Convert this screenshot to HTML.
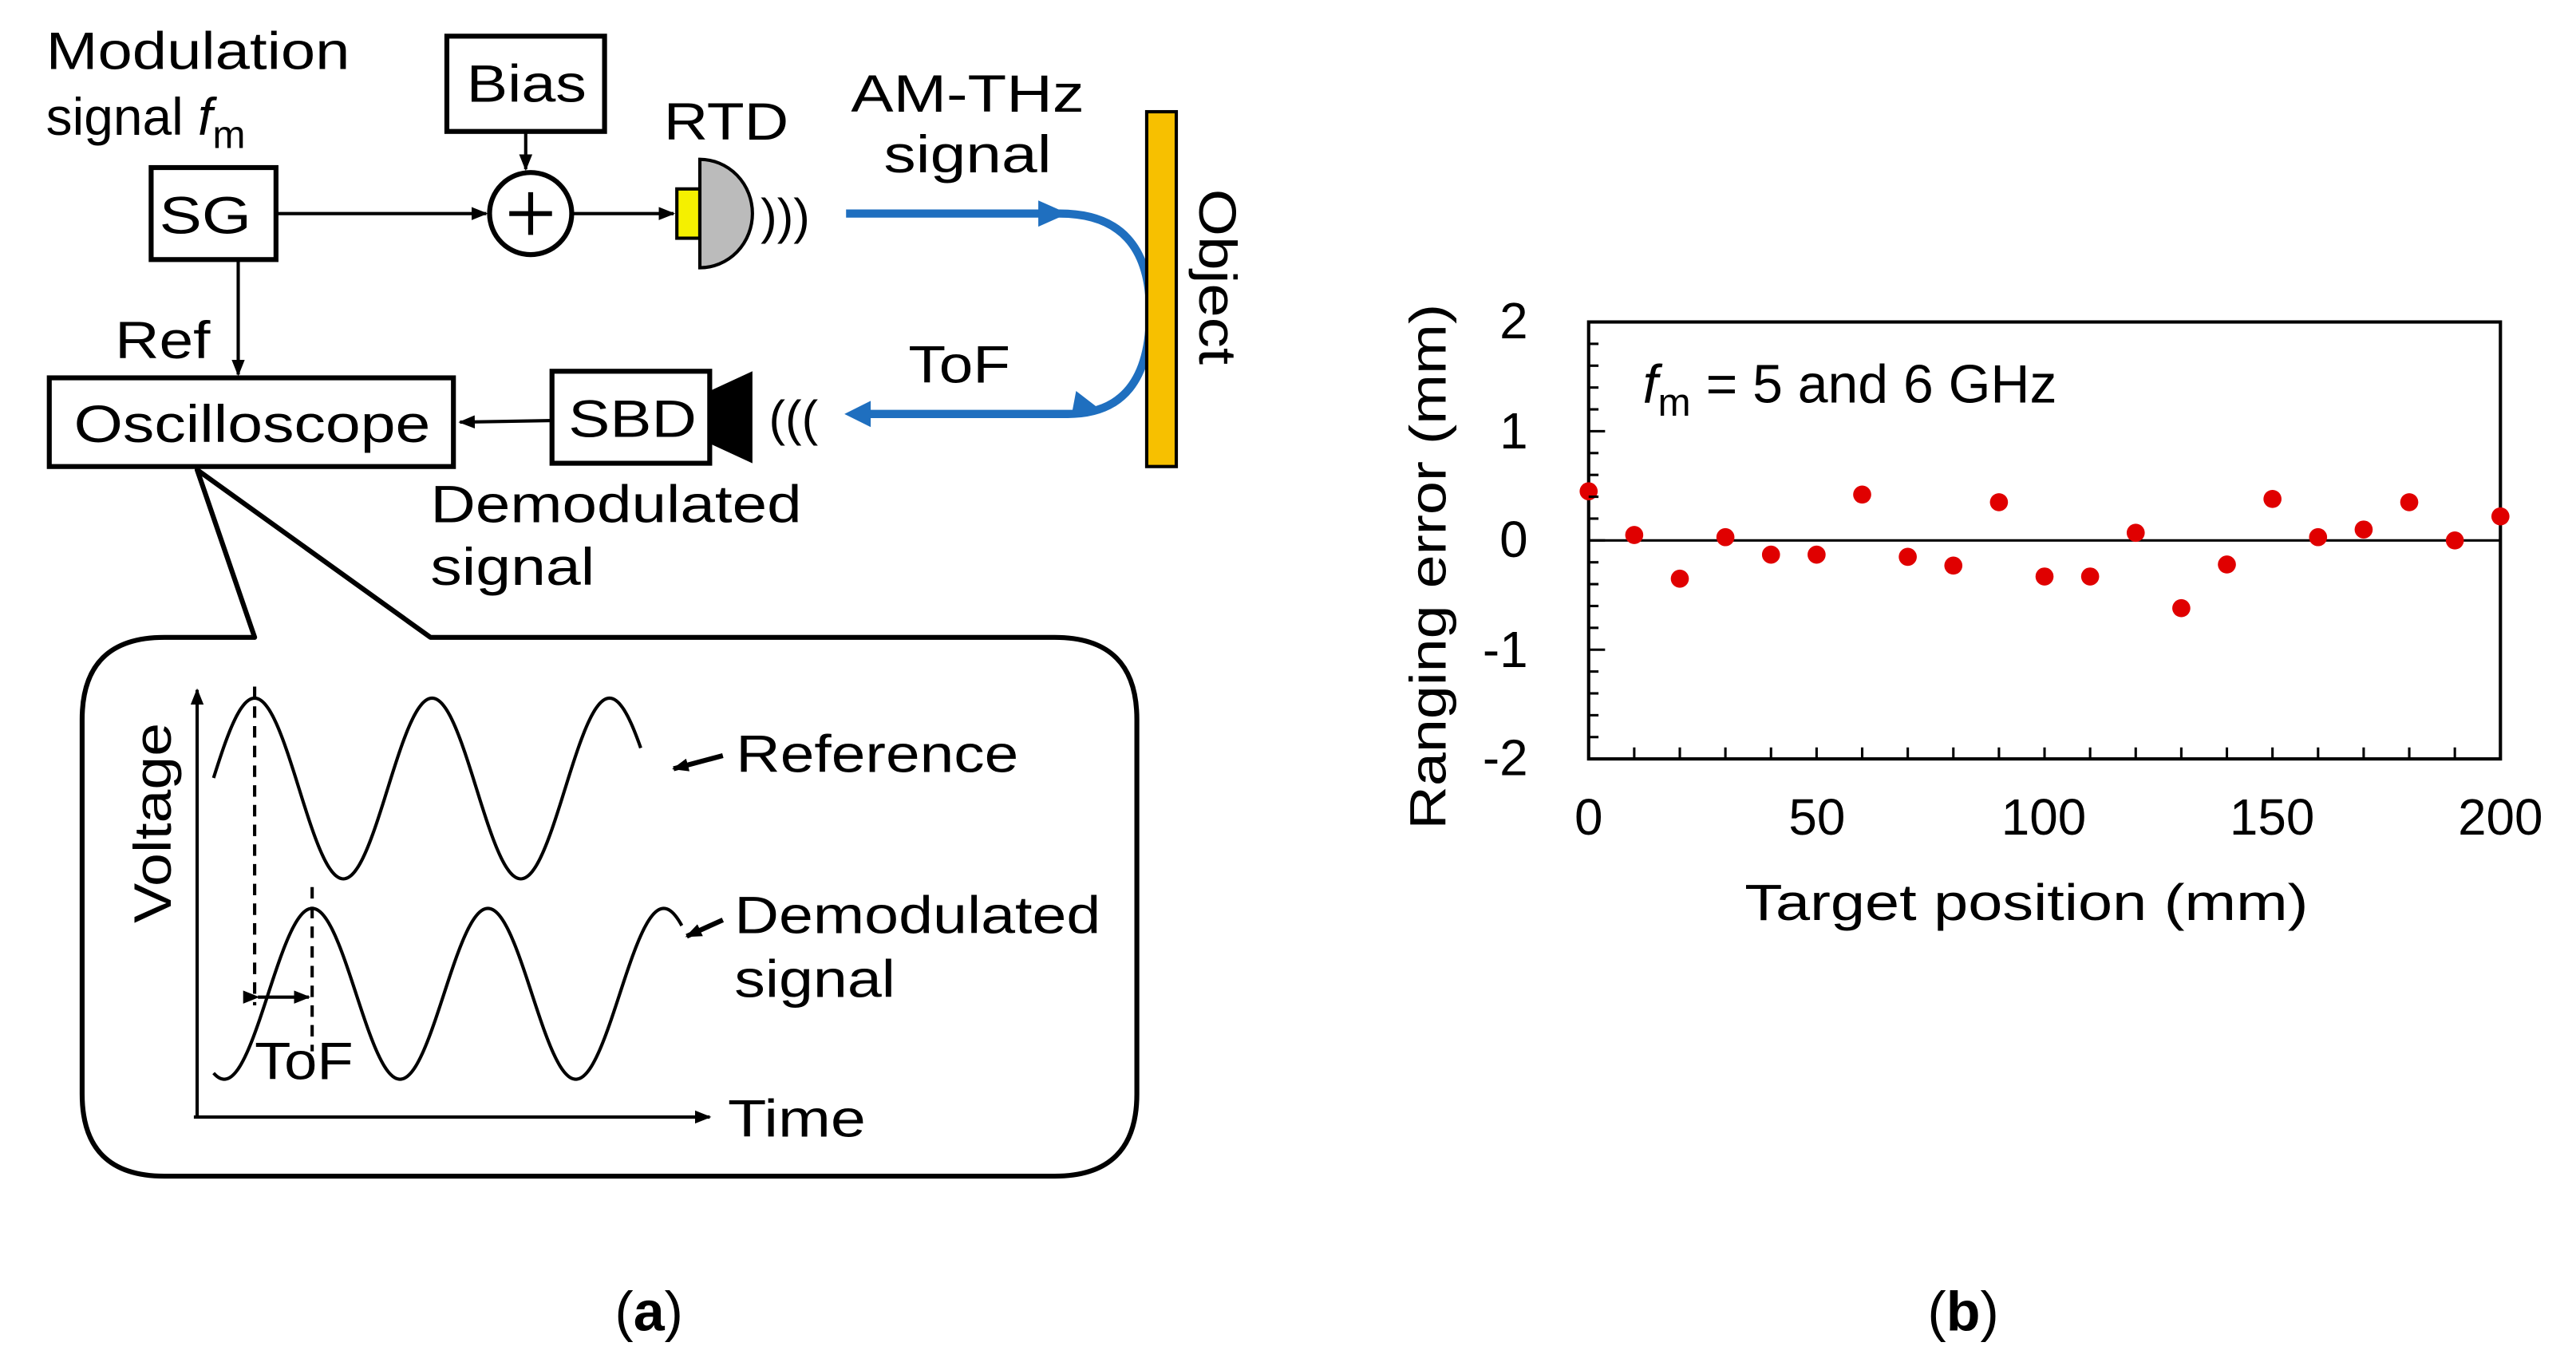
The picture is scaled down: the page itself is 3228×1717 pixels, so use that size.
<!DOCTYPE html>
<html><head><meta charset="utf-8"><style>
html,body{margin:0;padding:0;background:#fff;}
svg{display:block;}
text{font-family:"Liberation Sans",sans-serif;fill:#000;}
</style></head><body>
<svg width="3228" height="1717" viewBox="0 0 1568 834" xmlns="http://www.w3.org/2000/svg">
<defs>
<marker id="ah" markerWidth="10" markerHeight="8" refX="9" refY="4" orient="auto" markerUnits="userSpaceOnUse"><path d="M0,0 L10,4 L0,8 z" fill="#000"/></marker>
</defs>
<g font-size="32">
<text x="28" y="42" textLength="185" lengthAdjust="spacingAndGlyphs">Modulation</text>
<text x="28" y="82">signal <tspan font-style="italic">f</tspan><tspan font-size="24" dy="8">m</tspan></text>
<rect x="272" y="22" width="96" height="58" fill="none" stroke="#000" stroke-width="3"/>
<text x="284" y="62" textLength="73" lengthAdjust="spacingAndGlyphs">Bias</text>
<line x1="320" y1="80" x2="320" y2="103" stroke="#000" stroke-width="2" marker-end="url(#ah)"/>
<rect x="92" y="102" width="76" height="56" fill="none" stroke="#000" stroke-width="3"/>
<text x="97" y="142" textLength="56" lengthAdjust="spacingAndGlyphs">SG</text>
<line x1="168" y1="130" x2="296" y2="130" stroke="#000" stroke-width="2" marker-end="url(#ah)"/>
<circle cx="323" cy="130" r="25" fill="none" stroke="#000" stroke-width="3"/>
<line x1="310" y1="130" x2="336" y2="130" stroke="#000" stroke-width="3"/>
<line x1="323" y1="117" x2="323" y2="143" stroke="#000" stroke-width="3"/>
<line x1="348" y1="130" x2="410" y2="130" stroke="#000" stroke-width="2" marker-end="url(#ah)"/>
<rect x="412" y="115" width="14" height="30" fill="#f5f000" stroke="#000" stroke-width="2"/>
<path d="M426,97 A32,33 0 0 1 426,163 Z" fill="#bbb" stroke="#000" stroke-width="2"/>
<text x="404" y="85" textLength="76" lengthAdjust="spacingAndGlyphs">RTD</text>
<text x="463" y="142" font-size="30">)))</text>
<text x="518" y="68" textLength="142" lengthAdjust="spacingAndGlyphs">AM-THz</text>
<text x="538" y="105" textLength="102" lengthAdjust="spacingAndGlyphs">signal</text>
<path d="M515,130 L645,130 Q700,130 700,190 Q700,252 650,252 L520,252" fill="none" stroke="#1f6fbf" stroke-width="5"/>
<path d="M632,122 L650,130 L632,138 z" fill="#1f6fbf"/>
<path d="M530,244 L514,252 L530,260 z" fill="#1f6fbf"/>
<path d="M655,238 L668,248 L652,254 z" fill="#1f6fbf"/>
<rect x="698" y="68" width="18" height="216" fill="#f7c000" stroke="#000" stroke-width="2"/>
<text transform="translate(730,115) rotate(90)" textLength="107" lengthAdjust="spacingAndGlyphs">Object</text>
<text x="553" y="233" textLength="62" lengthAdjust="spacingAndGlyphs">ToF</text>
<text x="468" y="265" font-size="30">(((</text>
<path d="M432,238 L458,226 L458,282 L432,270 Z" fill="#000"/>
<rect x="336" y="226" width="96" height="56" fill="none" stroke="#000" stroke-width="3"/>
<text x="346" y="266" textLength="78" lengthAdjust="spacingAndGlyphs">SBD</text>
<line x1="336" y1="256" x2="280" y2="257" stroke="#000" stroke-width="2" marker-end="url(#ah)"/>
<rect x="30" y="230" width="246" height="54" fill="none" stroke="#000" stroke-width="3"/>
<text x="45" y="269" textLength="217" lengthAdjust="spacingAndGlyphs">Oscilloscope</text>
<line x1="145" y1="158" x2="145" y2="228" stroke="#000" stroke-width="2" marker-end="url(#ah)"/>
<text x="70" y="218" textLength="58" lengthAdjust="spacingAndGlyphs">Ref</text>
<text x="262" y="318" textLength="226" lengthAdjust="spacingAndGlyphs">Demodulated</text>
<text x="262" y="356" textLength="100" lengthAdjust="spacingAndGlyphs">signal</text>
<path d="M155,388 L100,388 Q50,388 50,438 L50,666 Q50,716 100,716 L642,716 Q692,716 692,666 L692,438 Q692,388 642,388 L262,388 L120,286 Z" fill="#fff" stroke="#000" stroke-width="3" stroke-linejoin="round"/>
<line x1="120" y1="680" x2="120" y2="420" stroke="#000" stroke-width="2" marker-end="url(#ah)"/>
<line x1="118" y1="680" x2="432" y2="680" stroke="#000" stroke-width="2" marker-end="url(#ah)"/>
<text transform="translate(104,562) rotate(-90)" textLength="122" lengthAdjust="spacingAndGlyphs">Voltage</text>
<path id="w1" fill="none" stroke="#000" stroke-width="2"/>
<path id="w2" fill="none" stroke="#000" stroke-width="2"/>
<line x1="155" y1="418" x2="155" y2="612" stroke="#000" stroke-width="2" stroke-dasharray="7,5"/>
<line x1="190" y1="540" x2="190" y2="640" stroke="#000" stroke-width="2" stroke-dasharray="7,5"/>
<line x1="157" y1="607" x2="188" y2="607" stroke="#000" stroke-width="2" marker-start="url(#ah)" marker-end="url(#ah)"/>
<text x="155" y="657" textLength="60" lengthAdjust="spacingAndGlyphs">ToF</text>
<line x1="440" y1="460" x2="410" y2="468" stroke="#000" stroke-width="3" marker-end="url(#ah)"/>
<text x="448" y="470" textLength="172" lengthAdjust="spacingAndGlyphs">Reference</text>
<line x1="440" y1="560" x2="418" y2="570" stroke="#000" stroke-width="3" marker-end="url(#ah)"/>
<text x="447" y="568" textLength="223" lengthAdjust="spacingAndGlyphs">Demodulated</text>
<text x="447" y="607" textLength="98" lengthAdjust="spacingAndGlyphs">signal</text>
<text x="443" y="692" textLength="84" lengthAdjust="spacingAndGlyphs">Time</text>
<text x="395" y="810" text-anchor="middle" font-family="Liberation Serif" font-size="34">(<tspan font-weight="bold">a</tspan>)</text>
<text x="1195" y="810" text-anchor="middle" font-family="Liberation Serif" font-size="34">(<tspan font-weight="bold">b</tspan>)</text>
</g>
<g font-size="31" id="plot">
<rect x="967" y="196" width="555" height="266" fill="none" stroke="#000" stroke-width="2"/>
<line x1="967" y1="329" x2="1522" y2="329" stroke="#000" stroke-width="1.5"/>
<g text-anchor="end">
<text x="930" y="206">2</text><text x="930" y="273">1</text><text x="930" y="339">0</text><text x="930" y="406">-1</text><text x="930" y="472">-2</text>
</g>
<g text-anchor="middle">
<text x="967" y="508">0</text><text x="1106" y="508">50</text><text x="1244" y="508">100</text><text x="1383" y="508">150</text><text x="1522" y="508">200</text>
</g>
<text x="1062" y="560" textLength="343" lengthAdjust="spacingAndGlyphs">Target position (mm)</text>
<text transform="translate(880,505) rotate(-90)" textLength="320" lengthAdjust="spacingAndGlyphs">Ranging error (mm)</text>
<text x="1000" y="245" font-size="33"><tspan font-style="italic">f</tspan><tspan font-size="24" dy="8">m</tspan><tspan dy="-8"> = 5 and 6 GHz</tspan></text>
</g>
<script>
(function(){
function wave(id,x0,x1,pk,per,cy,a){var d="";for(var x=x0;x<=x1;x+=1){var y=cy-a*Math.cos(2*Math.PI*(x-pk)/per);d+=(x==x0?"M":"L")+x+","+y.toFixed(2)+" ";}document.getElementById(id).setAttribute("d",d);}
wave("w1",130,390,155,108,480,55);
wave("w2",130,415,190,107,605,52);
var ns="http://www.w3.org/2000/svg",g=document.getElementById("plot");
var data=[0.45,0.05,-0.35,0.03,-0.13,-0.13,0.42,-0.15,-0.23,0.35,-0.33,-0.33,0.07,-0.62,-0.22,0.38,0.03,0.1,0.35,0,0.22];
for(var i=0;i<=20;i++){var x=967+i*27.75;
var t=document.createElementNS(ns,"line");t.setAttribute("x1",x);t.setAttribute("x2",x);t.setAttribute("y1",462);t.setAttribute("y2",455);t.setAttribute("stroke","#000");t.setAttribute("stroke-width","1.5");g.appendChild(t);
var c=document.createElementNS(ns,"circle");c.setAttribute("cx",x);c.setAttribute("cy",329-data[i]*66.5);c.setAttribute("r",5.5);c.setAttribute("fill","#e00000");g.appendChild(c);}
for(var j=0;j<=20;j++){var y=196+j*13.3;var t2=document.createElementNS(ns,"line");t2.setAttribute("x1",967);t2.setAttribute("x2",j%5==0?977:973);t2.setAttribute("y1",y);t2.setAttribute("y2",y);t2.setAttribute("stroke","#000");t2.setAttribute("stroke-width","1.5");g.appendChild(t2);}
})();
</script>
</svg>
</body></html>
